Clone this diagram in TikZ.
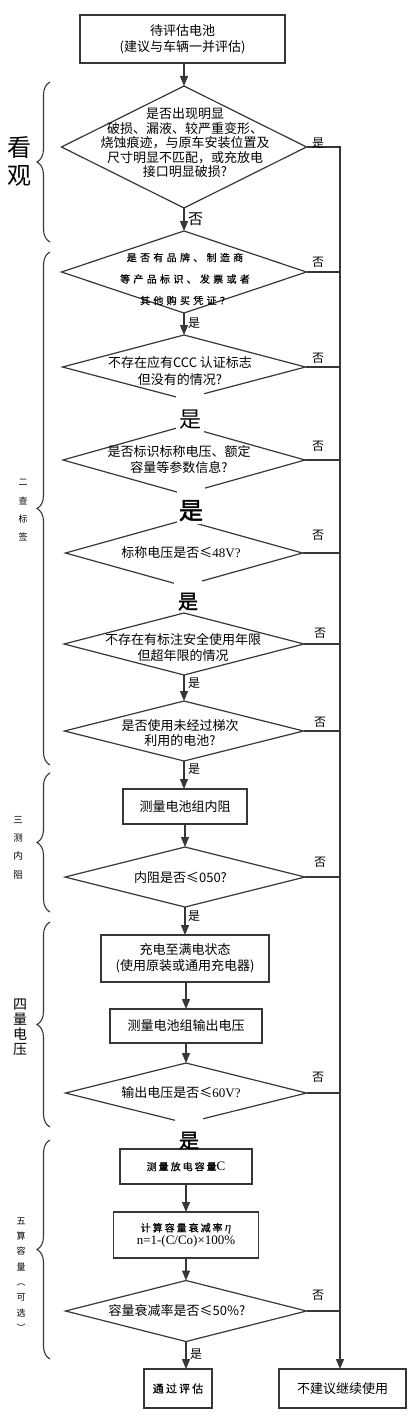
\documentclass[tikz,border=0pt]{standalone}
\usepackage{fontspec}
\setmainfont{Liberation Serif}
\newfontfamily\cjk{Noto Sans CJK SC}
\newfontfamily\cjkb[FakeBold=2]{Noto Sans CJK SC}
\newfontfamily\cjkspA[LetterSpace=33,FakeBold=0.6]{Noto Sans CJK SC}
\newfontfamily\cjkspB[LetterSpace=20,FakeBold=0.6]{Noto Sans CJK SC}
\usetikzlibrary{shapes.geometric,arrows.meta,decorations.pathreplacing}
\definecolor{lc}{RGB}{55,55,55}
\tikzset{
  ln/.style={draw=lc, line width=1.2pt},
  arr/.style={draw=lc, line width=1.2pt, -{Triangle[length=10pt,width=8pt]}},
  dia/.style={shape=diamond, draw=lc, line width=1.2pt, inner sep=0pt, outer sep=0pt},
  box/.style={rectangle, draw=lc, line width=1.2pt, inner sep=0pt, outer sep=0pt, align=center,
              font=\cjk\fontsize{13}{16}\selectfont},
  txt/.style={align=center, inner sep=0pt, font=\cjk\fontsize{13}{14.5}\selectfont},
  lab/.style={inner sep=0pt, font=\cjk\fontsize{12}{12}\selectfont},
  bigy/.style={fill=white, inner xsep=2pt, inner ysep=0pt, anchor=north, minimum width=28pt},
  side/.style={align=center, inner sep=0pt},
  brc/.style={draw=lc, line width=1.1pt, decorate, decoration={brace, amplitude=13pt}},
}
\begin{document}
\begin{tikzpicture}[x=1pt,y=-1pt]
\useasboundingbox (0,0) rectangle (410,1418);
\fill[white] (0,0) rectangle (410,1418);

% ---------- boxes ----------
\node[box, minimum width=205, minimum height=48] (b0) at (182.5,39) {待评估电池\\(建议与车辆一并评估)};
\node[box, minimum width=124, minimum height=35] (b1) at (185,806.5) {测量电池组内阻};
\node[box, minimum width=168, minimum height=47] (b2) at (185,958.5) {充电至满电状态\\(使用原装或通用充电器)};
\node[box, minimum width=152, minimum height=34] (b3) at (186,1026) {测量电池组输出电压};
\node[box, minimum width=132, minimum height=35] (b4) at (186,1166.5)
  {{\cjkspB\fontsize{10}{10}\selectfont 测量放电容量}{\rmfamily C}};
\node[box, minimum width=145, minimum height=46, font=\cjk\fontsize{13}{12.5}\selectfont] (b5) at (186,1235)
  {{\cjkspB\fontsize{10}{10}\selectfont 计算容量衰减率}\,{\rmfamily\itshape η}\\{\rmfamily n=1-(C/Co)×100\%}};
\node[box, minimum width=68, minimum height=39] (b6) at (178,1388.5)
  {{\cjkspB\fontsize{11}{11}\selectfont 通过评估}};
\node[box, minimum width=127, minimum height=39] (b7) at (342.5,1388.5) {不建议继续使用};

% ---------- diamonds ----------
\node[dia, minimum width=245, minimum height=122] (d1) at (184,147) {};
\node[dia, minimum width=245, minimum height=82] (d2) at (184,272) {};
\node[dia, minimum width=243, minimum height=64] (d3) at (184,367) {};
\node[dia, minimum width=242, minimum height=68] (d4) at (184,460) {};
\node[dia, minimum width=237, minimum height=66] (d5) at (184,553) {};
\node[dia, minimum width=240, minimum height=62] (d6) at (184,644) {};
\node[dia, minimum width=239, minimum height=60] (d7) at (184,731) {};
\node[dia, minimum width=240, minimum height=60] (d8) at (185,877) {};
\node[dia, minimum width=241, minimum height=60] (d9) at (186,1093) {};
\node[dia, minimum width=241, minimum height=61] (d10) at (186,1311) {};

% ---------- diamond texts ----------
\node[txt] (t1) at (185,143) {是否出现明显\\破损、漏液、较严重变形、\\烧蚀痕迹，与原车安装位置及\\尺寸明显不匹配，或充放电\\接口明显破损?};
\node[txt, font=\cjkspA\fontsize{10}{21.5}\selectfont] (t2) at (185,279) {是否有品牌、制造商\\等产品标识、发票或者\\其他购买凭证？};
\node[txt, font=\cjk\fontsize{13}{17}\selectfont] (t3) at (180,371.5) {不存在应有CCC 认证标志\\但没有的情况?};
\node[txt, font=\cjk\fontsize{13}{16}\selectfont] (t4) at (179,460) {是否标识标称电压、额定\\容量等参数信息?};
\node[txt] (t5) at (181,553) {标称电压是否≤{\rmfamily 48V?}};
\node[txt, font=\cjk\fontsize{13}{15.5}\selectfont] (t6) at (183,647.5) {不存在有标注安全使用年限\\但超年限的情况};
\node[txt, font=\cjk\fontsize{13}{15}\selectfont] (t7) at (180,733.5) {是否使用未经过梯次\\利用的电池?};
\node[txt] (t8) at (180.5,878) {内阻是否≤050?};
\node[txt] (t9) at (181,1093) {输出电压是否≤{\rmfamily 60V?}};
\node[txt] (t10) at (177,1311) {容量衰减率是否≤50\%?};

% ---------- right collector line ----------
\coordinate (rt) at (340,147);
\draw[arr] (d1.east) -- (rt) -- (rt |- b7.north);
\foreach \d in {d2,d3,d4,d5,d6,d7,d8,d9,d10}{
  \draw[ln] (\d.east) -- (\d.east -| rt);
}

% ---------- main flow arrows ----------
\draw[arr] (d1.north |- b0.south) -- (d1.north);
\draw[arr] (d1.south) -- (d2.north);
\draw[arr] (d2.south) -- (d3.north);
\draw[arr] (d6.south) -- (d7.north);
\draw[arr] (d7.south) -- (d7.south |- b1.north);
\draw[arr] (b1.south) -- (d8.north);
\draw[arr] (d8.south) -- (d8.south |- b2.north);
\draw[arr] (b3.north |- b2.south) -- (b3.north);
\draw[arr] (b3.south) -- (d9.north);
\draw[arr] (b4.south) -- (b5.north);
\draw[arr] (b5.south) -- (d10.north);
\draw[arr] (d10.south) -- (d10.south |- b6.north);

% ---------- big yes marks covering the gaps ----------
\node[bigy, font=\cjk\fontsize{22}{22}\selectfont, text height=35.4pt, text depth=5pt] (y1) at (190,392) {是};
\node[bigy, font=\cjkb\fontsize{24}{24}\selectfont, text height=35pt, text depth=5pt] (y2) at (191,484) {是};
\node[bigy, font=\cjkb\fontsize{20}{20}\selectfont, text height=32.6pt, text depth=3pt] (y3) at (188,576) {是};
\node[bigy, font=\cjkb\fontsize{20}{20}\selectfont, text height=31.6pt, text depth=0.5pt] (y4) at (189,1116) {是};

% ---------- small yes / no labels ----------
\node[lab] (l1) at (318,143) {是};
\node[lab, font=\cjk\fontsize{15}{15}\selectfont, anchor=west] (l2) at (188,219) {否};
\node[lab] (l3) at (318,262) {否};
\node[lab] (l4) at (194,323) {是};
\node[lab] (l5) at (318,358) {否};
\node[lab] (l6) at (318,446) {否};
\node[lab] (l7) at (318,535) {否};
\node[lab] (l8) at (320,633) {否};
\node[lab] (l9) at (194,683) {是};
\node[lab] (l10) at (320,722) {否};
\node[lab] (l11) at (194,769) {是};
\node[lab] (l12) at (320,862) {否};
\node[lab] (l13) at (194,916) {是};
\node[lab] (l14) at (318,1077) {否};
\node[lab] (l15) at (318,1295) {否};
\node[lab] (l16) at (196,1354) {是};

% ---------- left braces ----------
\draw[brc] (50,242) -- (50,82);
\draw[brc] (50,765) -- (50,252);
\draw[brc] (50,912) -- (50,773);
\draw[brc] (50,1127) -- (50,922);
\draw[brc] (50,1359) -- (50,1140);

% ---------- left stage labels ----------
\node[side, font=\cjk\fontsize{24}{28}\selectfont] (s1) at (20,161) {看\\观};
\node[side, font=\cjk\fontsize{9}{18.3}\selectfont] (s2) at (23,510.5) {二\\查\\标\\签};
\node[side, font=\cjk\fontsize{9.5}{18.3}\selectfont] (s3) at (18,847.5) {三\\测\\内\\阻};
\node[side, font=\cjk\fontsize{14}{15}\selectfont] (s4) at (20,1027.5) {四\\量\\电\\压};
\node[side, font=\cjk\fontsize{9}{15.3}\selectfont] (s5) at (21,1274.5) {五\\算\\容\\量\\︵\\可\\选\\︶};
\end{tikzpicture}
\end{document}
